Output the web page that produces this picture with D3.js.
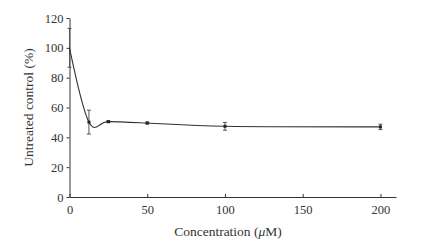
<!DOCTYPE html>
<html>
<head>
<meta charset="utf-8">
<script src="https://cdn.jsdelivr.net/npm/d3@7"></script>
<style>
	body { margin: 0; background: #fff; }
	text { font-family: "Liberation Serif", "DejaVu Serif", serif; fill: #333; }
</style>
</head>
<body>
<svg id="chart"></svg>
<script>
// concentrations (uM) and % of untreated control
var concentrations = [0, 12.5, 25, 50, 100, 200];
var values = [100, 50.2, 50.5, 49.6, 47.4, 47.0];
var errors = [13, 8, 0.6, 0.6, 2.6, 1.8];
var xTicks = [0, 50, 100, 150, 200];
var yTicks = [0, 20, 40, 60, 80, 100, 120];

function drawChart() {
	var width = 428;
	var height = 246;
	var margin = { top: 18, right: 32, bottom: 49, left: 69.5 };

	var svg = d3.select("#chart")
		.attr("width", width)
		.attr("height", height);

	var x = d3.scaleLinear()
		.domain([0, 210])
		.range([margin.left, width - margin.right]);

	var y = d3.scaleLinear()
		.domain([0, 120])
		.range([height - margin.bottom, margin.top]);

	var data = concentrations.map((c, i) => ({ c: c, v: values[i], e: errors[i] }));

	// x axis, ticks pointing up into the plot
	var xAxis = svg.append("g")
		.attr("transform", "translate(0," + y(0) + ")")
		.call(d3.axisBottom(x).tickValues(xTicks).tickSize(-3).tickSizeOuter(0).tickPadding(8));

	var yAxis = svg.append("g")
		.attr("transform", "translate(" + x(0) + ",0)")
		.call(d3.axisLeft(y).tickValues(yTicks).tickSize(3).tickSizeOuter(0).tickPadding(3));

	[xAxis, yAxis].forEach(a => {
		a.select(".domain").attr("stroke", "#333").attr("stroke-width", 1);
		a.selectAll(".tick line").attr("stroke", "#333");
		a.selectAll(".tick text").attr("font-size", "12.5px").attr("fill", "#333")
			.style("font-family", "'Liberation Serif', serif");
	});

	// error bars
	var eb = svg.append("g").attr("stroke", "#555").attr("stroke-width", 1);
	data.forEach(d => {
		if (!d.e) return;
		eb.append("line")
			.attr("x1", x(d.c)).attr("x2", x(d.c))
			.attr("y1", y(d.v + d.e)).attr("y2", y(d.v - d.e));
		[d.v + d.e, d.v - d.e].forEach(v => {
			eb.append("line")
				.attr("x1", x(d.c) - 2).attr("x2", x(d.c) + 2)
				.attr("y1", y(v)).attr("y2", y(v));
		});
	});

	// smoothed line
	var line = d3.line()
		.x(d => x(d.c))
		.y(d => y(d.v))
		.curve(d3.curveCardinal.tension(0));

	svg.append("path")
		.datum(data)
		.attr("fill", "none")
		.attr("stroke", "#333")
		.attr("stroke-width", 1.1)
		.attr("d", line);

	svg.selectAll(".pt")
		.data(data.slice(1))
		.enter()
		.append("rect")
		.classed("pt", true)
		.attr("x", d => x(d.c) - 1.5)
		.attr("y", d => y(d.v) - 1.5)
		.attr("width", 3)
		.attr("height", 3)
		.attr("fill", "#222");

	// axis titles
	var xt = svg.append("text")
		.attr("x", (x(0) + x(200)) / 2 + 3)
		.attr("y", 236)
		.attr("font-size", "13.5px")
		.style("text-anchor", "middle");
	xt.append("tspan").text("Concentration (");
	xt.append("tspan").attr("font-style", "italic").text("\u03bc");
	xt.append("tspan").text("M)");

	svg.append("text")
		.attr("transform", "translate(33," + (y(0) + y(120)) / 2 + ") rotate(-90)")
		.attr("font-size", "13.5px")
		.style("text-anchor", "middle")
		.text("Untreated control (%)");
}

drawChart();
</script>
</body>
</html>
